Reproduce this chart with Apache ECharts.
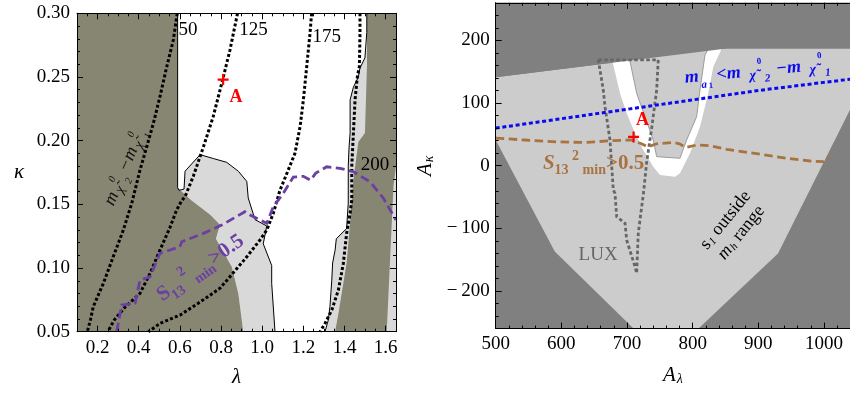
<!DOCTYPE html>
<html><head><meta charset="utf-8">
<script src="https://cdn.jsdelivr.net/npm/echarts@6/dist/echarts.min.js"></script>
<style>html,body{margin:0;padding:0;background:#fff}#c{width:850px;height:393px}</style>
</head><body><div id="c"></div>
<script>
// ---------- tick labels ----------
const xTicksL = [0.2, 0.4, 0.6, 0.8, 1.0, 1.2, 1.4, 1.6];
const xTicksR = [500, 600, 700, 800, 900, 1000];
const yTicksR = [-200, -100, 0, 100, 200];

// ---------- left panel (lambda, kappa) ----------
const leftOliveA = [[0.1,0.3],[0.589,0.3],[0.589,0.163],[0.657,0.153],[0.746,0.142],[0.795,0.134],[0.775,0.123],[0.852,0.101],[0.884,0.080],[0.908,0.05],[0.1,0.05]];
const leftGrayA = [[0.589,0.163],[0.596,0.161],[0.620,0.162],[0.625,0.176],[0.698,0.189],[0.762,0.186],[0.827,0.183],[0.884,0.176],[0.925,0.168],[0.932,0.155],[0.965,0.138],[1.022,0.133],[1.005,0.119],[1.046,0.102],[1.046,0.088],[1.062,0.05],[0.908,0.05],[0.884,0.080],[0.852,0.101],[0.775,0.123],[0.795,0.134],[0.746,0.142],[0.657,0.153]];
const contourA = [[0.589,0.3],[0.589,0.163],[0.596,0.161],[0.620,0.162],[0.625,0.176],[0.698,0.189],[0.762,0.186],[0.827,0.183],[0.884,0.176],[0.925,0.168],[0.932,0.155],[0.965,0.138],[1.022,0.133],[1.005,0.119],[1.046,0.102],[1.046,0.088],[1.062,0.05]];
const contourB = [[1.508,0.3],[1.508,0.285],[1.499,0.265],[1.475,0.257],[1.467,0.250],[1.443,0.242],[1.427,0.232],[1.427,0.206],[1.422,0.195],[1.418,0.180],[1.418,0.151],[1.410,0.131],[1.360,0.123],[1.354,0.114],[1.342,0.104],[1.338,0.0905],[1.329,0.0696],[1.321,0.0591],[1.305,0.05]];
const leftGrayB = [[1.508,0.3],[1.508,0.285],[1.499,0.265],[1.475,0.257],[1.467,0.250],[1.443,0.242],[1.427,0.232],[1.427,0.206],[1.422,0.195],[1.418,0.180],[1.418,0.151],[1.410,0.131],[1.360,0.123],[1.354,0.114],[1.342,0.104],[1.338,0.0905],[1.329,0.0696],[1.321,0.0591],[1.305,0.05],[1.65,0.05],[1.65,0.3]];
const leftOliveB = [[1.509,0.3],[1.65,0.3],[1.65,0.18],[1.638,0.165],[1.621,0.106],[1.605,0.05],[1.354,0.05],[1.370,0.064],[1.410,0.104],[1.424,0.130],[1.443,0.169],[1.467,0.199],[1.499,0.206],[1.509,0.259]];
const line50 = [[0.587,0.30],[0.568,0.279],[0.536,0.258],[0.503,0.2345],[0.471,0.2136],[0.439,0.1952],[0.406,0.1769],[0.374,0.156],[0.366,0.1508],[0.325,0.1298],[0.276,0.1088],[0.228,0.0879],[0.179,0.0696],[0.165,0.0591],[0.15,0.05]];
const line125 = [[0.88,0.30],[0.843,0.271],[0.808,0.248],[0.762,0.219],[0.714,0.195],[0.665,0.172],[0.625,0.156],[0.609,0.153],[0.584,0.1455],[0.552,0.132],[0.503,0.114],[0.455,0.0958],[0.406,0.0801],[0.335,0.0696],[0.28,0.059],[0.25,0.05]];
const line175 = [[1.24,0.30],[1.232,0.284],[1.216,0.258],[1.200,0.232],[1.184,0.211],[1.159,0.190],[1.119,0.174],[1.086,0.161],[1.054,0.143],[1.022,0.1298],[0.989,0.122],[0.925,0.1088],[0.843,0.0931],[0.795,0.0842],[0.700,0.0735],[0.600,0.063],[0.503,0.0565],[0.447,0.05]];
const line200 = [[1.475,0.30],[1.475,0.284],[1.472,0.258],[1.462,0.250],[1.451,0.232],[1.443,0.2058],[1.435,0.1795],[1.435,0.1534],[1.427,0.143],[1.410,0.127],[1.394,0.1036],[1.370,0.0827],[1.338,0.067],[1.305,0.0565],[1.281,0.05]];
const purpleS13 = [[0.293,0.05],[0.317,0.0709],[0.382,0.0722],[0.406,0.0905],[0.455,0.0931],[0.503,0.1115],[0.600,0.1167],[0.609,0.1206],[0.714,0.1272],[0.803,0.1337],[0.916,0.1442],[0.941,0.1416],[1.022,0.1351],[1.054,0.1481],[1.102,0.1586],[1.151,0.1714],[1.2,0.172],[1.235,0.169],[1.26,0.1745],[1.313,0.1795],[1.378,0.1783],[1.443,0.1756],[1.524,0.1677],[1.588,0.155],[1.65,0.1377]];
const pointA_left = [0.81, 0.248];

// ---------- right panel (A_lambda, A_kappa) ----------
const rightLight = [[500,141],[852,187],[1050,187],[1050,111],[930,-140],[809,-260],[710,-260],[590,-137],[500,41]];
const rightDarkTop = [[500,141],[852,187],[1050,187],[1050,262],[500,262]];
const rightWhite = [[676.7,172],[689.3,115.6],[699.5,83.6],[712.2,51.7],[724.8,25.1],[740,-1.6],[750.2,-14.8],[773.1,-17.6],[780.7,-12.1],[795.9,19.8],[811.2,62.3],[823.8,115.6],[831.4,158],[846.6,192],[854.2,192]];
const rightIsland = [[703.5,172],[714.7,115.6],[727.4,78.2],[740,41],[745.2,14.4],[780.7,11.8],[790.9,41],[806.1,78.2],[811.2,120.8],[818.8,176.7],[823.8,186]];
const luxLine = [[656.3,169],[747.6,169],[745.2,120.8],[737.6,60],[730,6],[724.8,-46.8],[722.4,-65.4],[717.2,-107.9],[714.7,-171.7],[712.2,-161.2],[699.5,-118.6],[697,-91.9],[684.3,-81.4],[681.7,-44.1],[679.1,-38.8],[674.1,41],[666.5,94.2],[663.9,120.8],[656.3,169]];
const blueMa1 = [[500,60],[600,75],[700,90],[800,105],[900,120],[1000,133],[1040,138]];
const brownS13 = [[500,44],[545,41],[595,38],[636,37],[677,40],[707,41],[722,35],[732,30],[745,35],[770,37],[780,35],[790,29],[806,33],[826,32],[852,26],[892,20],[943,12],[979,7.5],[999,6.4],[1007,14]];
const pointA_right = [710, 46];

// ---------- build ----------
const SERIF = '"Liberation Serif","DejaVu Serif",serif';
const FS = 19;

function xAx(grid, min, max, pos, major, extra) {
  const a = {
    gridIndex: grid, type: 'value', min: min, max: max, position: pos, z: 10,
    splitLine: { show: false },
    axisLine: { show: major, onZero: false, lineStyle: { color: '#000', width: 1 } },
    axisTick: { show: true, inside: true, length: major ? 6 : 3, lineStyle: { color: '#000', width: 1 } },
    axisLabel: { show: false }
  };
  return Object.assign(a, extra || {});
}

const plusPath = 'path://M-5,-1H5V1H-5Z M-1,-5H1V5H-1Z';

function poly(data, xi, yi, fill, stroke, lw) {
  return {
    type: 'custom', xAxisIndex: xi, yAxisIndex: yi, clip: true, silent: true, animation: false, z: 1,
    data: data, encode: { x: 0, y: 1 },
    renderItem: function (params, api) {
      if (params.dataIndex !== 0) return null;
      return { type: 'polygon', shape: { points: data.map(function (p) { return api.coord(p); }) },
        style: { fill: fill, stroke: stroke || null, lineWidth: lw || 0 } };
    }
  };
}
function ln(data, xi, yi, color, w, type) {
  return { type: 'line', xAxisIndex: xi, yAxisIndex: yi, data: data, symbol: 'none', showSymbol: false,
    silent: true, animation: false, z: 3, clip: true,
    lineStyle: { color: color, width: w, type: type, cap: 'butt', join: 'miter' } };
}
function txt(xi, yi, pt, text, label) {
  return { type: 'scatter', xAxisIndex: xi, yAxisIndex: yi, data: [pt], symbolSize: 0, silent: true,
    animation: false, z: 6, itemStyle: { opacity: 1 },
    label: Object.assign({ show: true, position: 'inside', formatter: text, fontFamily: SERIF, color: '#000', fontSize: FS, opacity: 1 }, label) };
}
function plus(xi, yi, pt, offset) {
  return { type: 'scatter', xAxisIndex: xi, yAxisIndex: yi, data: [pt], symbol: plusPath, symbolSize: 11,
    itemStyle: { color: '#f00', opacity: 1 }, silent: true, animation: false, z: 7,
    label: { show: true, formatter: 'A', position: 'inside', offset: offset, color: '#f00', opacity: 1,
      fontFamily: SERIF, fontWeight: 'bold', fontSize: 18 } };
}

const lblStyle = { fontFamily: SERIF, fontSize: FS, color: '#000' };

const option = {
  animation: false,
  grid: [
    { left: 77, top: 13.3, width: 319, height: 318.4, show: false, containLabel: false, outerBoundsMode: 'none' },
    { left: 495.7, top: 2.8, width: 354.5, height: 325.8, show: true, backgroundColor: '#808080', borderWidth: 0, containLabel: false, outerBoundsMode: 'none' }
  ],
  xAxis: [
    xAx(0, 0.1, 1.65, 'bottom', true, {
      axisTick: { show: true, inside: true, length: 6, customValues: xTicksL, lineStyle: { color: '#000' } },
      axisLabel: Object.assign({ show: true, customValues: xTicksL, margin: 7, formatter: function (v) { return (+v).toFixed(1); } }, lblStyle),
      name: 'λ', nameLocation: 'middle', nameGap: 35,
      nameTextStyle: { fontFamily: SERIF, fontSize: 21, fontStyle: 'italic', color: '#000' }
    }),
    xAx(0, 0.1, 1.65, 'bottom', false, { interval: 0.05 }),
    xAx(0, 0.1, 1.65, 'top', true, {
      axisTick: { show: true, inside: true, length: 6, customValues: xTicksL, lineStyle: { color: '#000' } }
    }),
    xAx(0, 0.1, 1.65, 'top', false, { interval: 0.05 }),
    xAx(1, 500, 1040, 'bottom', true, {
      axisTick: { show: true, inside: true, length: 6, customValues: xTicksR, lineStyle: { color: '#000' } },
      axisLabel: Object.assign({ show: true, customValues: xTicksR, margin: 6, formatter: function (v) { return String(v); } }, lblStyle),
      name: '{a|A}{s|λ}', nameLocation: 'middle', nameGap: 36,
      nameTextStyle: { fontFamily: SERIF, color: '#000', rich: {
        a: { fontFamily: SERIF, fontSize: 21, fontStyle: 'italic', color: '#000' },
        s: { fontFamily: SERIF, fontSize: 14, fontStyle: 'italic', color: '#000', padding: [8, 0, 0, 1] } } }
    }),
    xAx(1, 500, 1040, 'bottom', false, { interval: 20 }),
    xAx(1, 500, 1040, 'top', true, {
      axisTick: { show: true, inside: true, length: 6, customValues: xTicksR, lineStyle: { color: '#000' } }
    }),
    xAx(1, 500, 1040, 'top', false, { interval: 20 })
  ],
  yAxis: [
    { gridIndex: 0, type: 'value', min: 0.05, max: 0.30, interval: 0.05, position: 'left', z: 10,
      splitLine: { show: false },
      axisLine: { show: true, onZero: false, lineStyle: { color: '#000' } },
      axisTick: { show: true, inside: true, length: 6, lineStyle: { color: '#000' } },
      minorTick: { show: true, splitNumber: 5, length: 3, lineStyle: { color: '#000' } },
      axisLabel: Object.assign({ show: true, margin: 7, formatter: function (v) { return (+v).toFixed(2); } }, lblStyle),
      name: 'κ', nameLocation: 'middle', nameRotate: 0, nameGap: 53,
      nameTextStyle: { fontFamily: SERIF, fontSize: 21, fontStyle: 'italic', color: '#000' } },
    { gridIndex: 0, type: 'value', min: 0.05, max: 0.30, interval: 0.05, position: 'right', z: 10,
      splitLine: { show: false },
      axisLine: { show: true, onZero: false, lineStyle: { color: '#000' } },
      axisTick: { show: true, inside: true, length: 6, lineStyle: { color: '#000' } },
      minorTick: { show: true, splitNumber: 5, length: 3, lineStyle: { color: '#000' } },
      axisLabel: { show: false } },
    { gridIndex: 1, type: 'value', min: -260, max: 260, position: 'left', z: 10,
      splitLine: { show: false },
      axisLine: { show: true, onZero: false, lineStyle: { color: '#000' } },
      axisTick: { show: true, inside: true, length: 6, customValues: yTicksR, lineStyle: { color: '#000' } },
      axisLabel: Object.assign({ show: true, margin: 6, customValues: yTicksR,
        formatter: function (v) { return v < 0 ? '\u2212\u2009' + Math.abs(v) : String(v); } }, lblStyle),
      name: '{a|A}{s|κ}', nameLocation: 'middle', nameGap: 59,
      nameTextStyle: { fontFamily: SERIF, color: '#000', rich: {
        a: { fontFamily: SERIF, fontSize: 21, fontStyle: 'italic', color: '#000' },
        s: { fontFamily: SERIF, fontSize: 14, fontStyle: 'italic', color: '#000', padding: [8, 0, 0, 1] } } } },
    { gridIndex: 1, type: 'value', min: -260, max: 260, interval: 20, position: 'left', z: 10,
      splitLine: { show: false }, axisLine: { show: false },
      axisTick: { show: true, inside: true, length: 3, lineStyle: { color: '#000' } },
      axisLabel: { show: false } }
  ],
  series: [
    // left panel regions
    poly(leftGrayA, 0, 0, '#d9d9d9'),
    poly(leftGrayB, 0, 0, '#d9d9d9'),
    poly(leftOliveA, 0, 0, '#878672'),
    poly(leftOliveB, 0, 0, '#878672'),
    ln(contourA, 0, 0, '#000', 1, 'solid'),
    ln(contourB, 0, 0, '#000', 1, 'solid'),
    ln(line50, 0, 0, '#000', 3, [3, 2.2]),
    ln(line125, 0, 0, '#000', 3, [3, 2.2]),
    ln(line175, 0, 0, '#000', 3, [3, 2.2]),
    ln(line200, 0, 0, '#000', 3, [3, 2.2]),
    ln(purpleS13, 0, 0, '#6b3fa3', 2.8, [9, 4.5]),
    txt(0, 0, [0.639, 0.287], '50', {}),
    txt(0, 0, [0.957, 0.287], '125', {}),
    txt(0, 0, [1.313, 0.281], '175', {}),
    txt(0, 0, [1.548, 0.181], '200', {}),
    txt(0, 0, [0.333, 0.179], '{m|m}{c|χ\u0303}{p|0}{b|2}{m| −m}{c|χ\u0303}{p|0}{b|1}', {
      rotate: 67, color: '#111', rich: {
        m: { fontFamily: SERIF, fontSize: 18, fontStyle: 'italic', color: '#111', lineHeight: 28 },
        c: { fontFamily: SERIF, fontSize: 14, fontStyle: 'italic', color: '#111', padding: [9, 0, 0, 2] },
        p: { fontFamily: SERIF, fontSize: 10, fontStyle: 'italic', color: '#111', verticalAlign: 'top', padding: [2, 0, 0, 1] },
        b: { fontFamily: SERIF, fontSize: 10, fontStyle: 'italic', color: '#111', verticalAlign: 'bottom' } } }),
    txt(0, 0, [0.70, 0.100], '{S|S}{s|13}{p| 2 }{s|min}{S|>0.5}', {
      rotate: 35, color: '#6b3fa3', rich: {
        S: { fontFamily: SERIF, fontSize: 21, fontWeight: 'bold', color: '#6b3fa3', lineHeight: 30 },
        s: { fontFamily: SERIF, fontSize: 14, fontWeight: 'bold', color: '#6b3fa3', verticalAlign: 'bottom' },
        p: { fontFamily: SERIF, fontSize: 14, fontWeight: 'bold', color: '#6b3fa3', verticalAlign: 'top' } } }),
    plus(0, 0, pointA_left, [13, 18]),

    // right panel regions
    poly(rightLight, 4, 2, '#cccccc'),
    poly(rightWhite, 4, 2, '#ffffff'),
    poly(rightIsland, 4, 2, '#cccccc', '#8a8a8a', 0.8),
    poly(rightDarkTop, 4, 2, '#808080'),
    ln(luxLine, 4, 2, '#666666', 2.8, [3.5, 2.5]),
    ln(blueMa1, 4, 2, '#0a0aee', 3, [4, 2.7]),
    ln(brownS13, 4, 2, '#a8733f', 2.8, [8.5, 4.5]),
    txt(4, 2, [900, 151], '{m|m}{s|a}{t|1}{m| <m }{c|χ\u0303}{p|0}{s|2}{m| −m }{c|χ\u0303}{p|0}{s|1}', {
      rotate: 5.5, color: '#0a0aee', rich: {
        m: { fontFamily: SERIF, fontSize: 18, fontWeight: 'bold', fontStyle: 'italic', color: '#0a0aee', lineHeight: 28 },
        s: { fontFamily: SERIF, fontSize: 11, fontWeight: 'bold', fontStyle: 'italic', color: '#0a0aee', verticalAlign: 'bottom', padding: [0, 2, 0, 2] },
        t: { fontFamily: SERIF, fontSize: 8, fontWeight: 'bold', color: '#0a0aee', verticalAlign: 'bottom' },
        c: { fontFamily: SERIF, fontSize: 14, fontWeight: 'bold', fontStyle: 'italic', color: '#0a0aee', padding: [8, 0, 0, 4] },
        p: { fontFamily: SERIF, fontSize: 9, fontWeight: 'bold', color: '#0a0aee', verticalAlign: 'top', padding: [0, 0, 0, 2] } } }),
    txt(4, 2, [649, 4], '{S|S}{s|13}{p| 2}{s| min}{B|>0.5}', {
      color: '#a8733f', rich: {
        S: { fontFamily: SERIF, fontSize: 21, fontWeight: 'bold', fontStyle: 'italic', color: '#a8733f', lineHeight: 28 },
        s: { fontFamily: SERIF, fontSize: 14, fontWeight: 'bold', color: '#a8733f', verticalAlign: 'bottom' },
        p: { fontFamily: SERIF, fontSize: 14, fontWeight: 'bold', color: '#a8733f', verticalAlign: 'top' },
        B: { fontFamily: SERIF, fontSize: 21, fontWeight: 'bold', color: '#a8733f', lineHeight: 28 } } }),
    txt(4, 2, [656, -142.5], 'LUX', { color: '#666666', fontSize: 19 }),
    txt(4, 2, [862, -97], '{a|s}{s|1}{a| outside}\n{i|m}{s|h}{a| range}', {
      rotate: 51, rich: {
        a: { fontFamily: SERIF, fontSize: 18, color: '#000', lineHeight: 20 },
        i: { fontFamily: SERIF, fontSize: 18, fontStyle: 'italic', color: '#000', lineHeight: 20 },
        s: { fontFamily: SERIF, fontSize: 11, fontStyle: 'italic', color: '#000', padding: [7, 0, 0, 1] } } }),
    plus(4, 2, pointA_right, [9, -17])
  ]
};

const chart = echarts.init(document.getElementById('c'), null, { renderer: 'canvas' });
chart.setOption(option);
</script></body></html>
